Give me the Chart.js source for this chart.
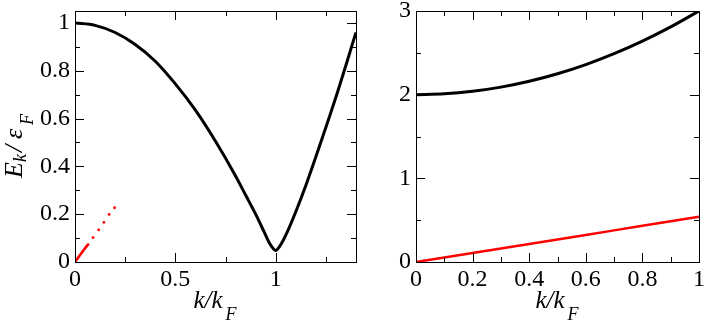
<!DOCTYPE html>
<html>
<head>
<meta charset="utf-8">
<script src="https://cdn.jsdelivr.net/npm/chart.js@4"></script>
<style>
  body { margin: 0; background: #fff; }
  canvas { position: absolute; top: 0; }
  #left { left: 0; }
  #right { left: 360px; }
</style>
</head>
<body>
<canvas id="left" width="360" height="325"></canvas>
<canvas id="right" width="346" height="325"></canvas>
<script>
// left panel: dispersion E_k / eps_F vs k / k_F
const leftK = [0, 0.1, 0.2, 0.3, 0.4, 0.5, 0.6, 0.7, 0.8, 0.85, 0.9, 0.94, 0.97, 0.99, 1.0, 1.01, 1.03, 1.06, 1.1, 1.15, 1.2, 1.3, 1.4];
const leftE = [1.0, 0.99, 0.96, 0.91, 0.84, 0.745, 0.635, 0.505, 0.36, 0.28, 0.20, 0.13, 0.077, 0.054, 0.048, 0.054, 0.079, 0.13, 0.21, 0.32, 0.44, 0.69, 0.96];
// red dots near the origin
const dotK = [0, 0.005, 0.01, 0.015, 0.02, 0.025, 0.03, 0.035, 0.04, 0.045, 0.05, 0.055, 0.06, 0.065, 0.090, 0.118, 0.144, 0.170, 0.197];
const dotE = [0, 0.006, 0.012, 0.017, 0.023, 0.029, 0.035, 0.040, 0.046, 0.052, 0.058, 0.063, 0.068, 0.073, 0.102, 0.134, 0.166, 0.199, 0.227];

// right panel
const rightK = [0, 0.1, 0.2, 0.3, 0.4, 0.5, 0.6, 0.7, 0.8, 0.9, 1.0];
const rightUpper = [2.0, 2.01, 2.04, 2.09, 2.16, 2.25, 2.36, 2.49, 2.64, 2.81, 3.0];
const rightLower = [0, 0.054, 0.108, 0.162, 0.216, 0.27, 0.324, 0.378, 0.432, 0.486, 0.54];

// tick labels
const leftXTicks = [0, 0.5, 1];
const leftYTicks = [0, 0.2, 0.4, 0.6, 0.8, 1];
const rightXTicks = [0, 0.2, 0.4, 0.6, 0.8, 1];
const rightYTicks = [0, 1, 2, 3];

const pts = (xs, ys) => xs.map((x, i) => ({ x, y: ys[i] }));
const serif = "'Liberation Serif', 'Times New Roman', serif";

// frame + inward major/minor ticks on all four sides
const framePlugin = {
  id: "frame",
  afterDraw(chart, args, opts) {
    const { ctx, chartArea: a, scales } = chart;
    ctx.save();
    ctx.strokeStyle = "#000";
    ctx.lineWidth = 1;
    ctx.strokeRect(a.left + 0.5, a.top + 0.5, a.right - a.left, a.bottom - a.top);
    const mark = (axis, vals, len) => {
      const s = scales[axis];
      vals.forEach((v) => {
        const p = Math.round(s.getPixelForValue(v)) + 0.5;
        ctx.beginPath();
        if (axis === "x") {
          ctx.moveTo(p, a.bottom); ctx.lineTo(p, a.bottom - len);
          ctx.moveTo(p, a.top); ctx.lineTo(p, a.top + len);
        } else {
          ctx.moveTo(a.left, p); ctx.lineTo(a.left + len, p);
          ctx.moveTo(a.right, p); ctx.lineTo(a.right - len, p);
        }
        ctx.stroke();
      });
    };
    mark("x", opts.xMajor, 9);
    mark("x", opts.xMinor, 5);
    mark("y", opts.yMajor, 9);
    mark("y", opts.yMinor, 5);
    ctx.restore();
  },
};

// axis titles with subscripts, pieces placed at offsets along the text
function drawParts(ctx, parts) {
  parts.forEach((p) => {
    ctx.font = p.font;
    ctx.fillText(p.t, p.at, p.dy || 0);
  });
}

const big = "italic 25px " + serif;
const bigY = "italic 26px " + serif;
const small = "italic 18px " + serif;

const titlePlugin = {
  id: "titles",
  afterDraw(chart, args, opts) {
    const { ctx, chartArea: a } = chart;
    ctx.save();
    ctx.fillStyle = "#000";
    ctx.textBaseline = "alphabetic";
    ctx.save();
    ctx.translate((a.left + a.right) / 2 - 22, 308);
    drawParts(ctx, [
      { t: "k", font: big, at: 0 }, { t: "/", font: big, at: 11 },
      { t: "k", font: big, at: 18 }, { t: "F", font: small, at: 32, dy: 12 },
    ]);
    ctx.restore();
    if (opts.yTitle) {
      ctx.translate(22, 178);
      ctx.rotate(-Math.PI / 2);
      drawParts(ctx, [
        { t: "E", font: bigY, at: 0 }, { t: "k", font: small, at: 16, dy: 4 },
        { t: "/", font: bigY, at: 26 },
        { t: "ε", font: bigY, at: 39 }, { t: "F", font: small, at: 53, dy: 11 },
      ]);
    }
    ctx.restore();
  },
};

const minors = (ticks, step) => ticks.map((t) => t + step);

function makeChart(id, datasets, cfg) {
  return new Chart(document.getElementById(id), {
    type: "scatter",
    data: { datasets },
    options: {
      responsive: false,
      animation: false,
      events: [],
      layout: { padding: cfg.padding },
      plugins: {
        legend: { display: false },
        tooltip: { enabled: false },
        frame: cfg.frame,
        titles: { yTitle: cfg.yTitle },
      },
      scales: {
        x: {
          type: "linear",
          min: cfg.xMin, max: cfg.xMax,
          grid: { display: false, drawTicks: false },
          border: { display: false },
          afterBuildTicks: (s) => { s.ticks = cfg.xTicks.map((v) => ({ value: v })); },
          afterFit: (s) => { s.height = 63; s.paddingLeft = 0; s.paddingRight = 0; },
          ticks: {
            padding: 3, color: "#000", maxRotation: 0,
            font: { family: serif, size: 24 },
            callback: (v) => String(v),
          },
        },
        y: {
          type: "linear",
          min: cfg.yMin, max: cfg.yMax,
          grid: { display: false, drawTicks: false },
          border: { display: false },
          afterBuildTicks: (s) => { s.ticks = cfg.yTicks.map((v) => ({ value: v })); },
          afterFit: (s) => { s.width = cfg.yWidth; s.paddingTop = 0; s.paddingBottom = 0; },
          ticks: {
            padding: 5, color: "#000",
            font: { family: serif, size: 24 },
            callback: (v) => String(v),
          },
        },
      },
    },
    plugins: [framePlugin, titlePlugin],
  });
}

function draw() {
  makeChart("left", [
    {
      data: pts(leftK, leftE), showLine: true, borderColor: "#000", borderWidth: 3,
      pointRadius: 0, cubicInterpolationMode: "monotone",
    },
    {
      data: pts(dotK, dotE), showLine: false, pointRadius: 1.4,
      backgroundColor: "#ff0000", borderColor: "#ff0000", borderWidth: 0,
    },
  ], {
    padding: { left: 0, right: 1, top: 11, bottom: 0 },
    xMin: 0, xMax: 1.4, yMin: 0, yMax: 1.05,
    xTicks: leftXTicks, yTicks: leftYTicks, yWidth: 75, yTitle: true,
    frame: {
      xMajor: leftXTicks, xMinor: [0.25, 0.75, 1.25],
      yMajor: leftYTicks, yMinor: minors(leftYTicks, 0.1),
    },
  });

  makeChart("right", [
    {
      data: pts(rightK, rightUpper), showLine: true, borderColor: "#000", borderWidth: 3,
      pointRadius: 0, cubicInterpolationMode: "monotone",
    },
    {
      data: pts(rightK, rightLower), showLine: true, borderColor: "#ff0000", borderWidth: 2.5,
      pointRadius: 0,
    },
  ], {
    padding: { left: 0, right: 7, top: 11, bottom: 0 },
    xMin: 0, xMax: 1, yMin: 0, yMax: 3,
    xTicks: rightXTicks, yTicks: rightYTicks, yWidth: 56, yTitle: false,
    frame: {
      xMajor: rightXTicks, xMinor: minors(rightXTicks, 0.1).filter((v) => v < 1),
      yMajor: rightYTicks, yMinor: [0.5, 1.5, 2.5],
    },
  });
}

Promise.all([
  document.fonts.load("24px 'Liberation Serif'"),
  document.fonts.load("italic 24px 'Liberation Serif'"),
]).then(draw, draw);
</script>
</body>
</html>
